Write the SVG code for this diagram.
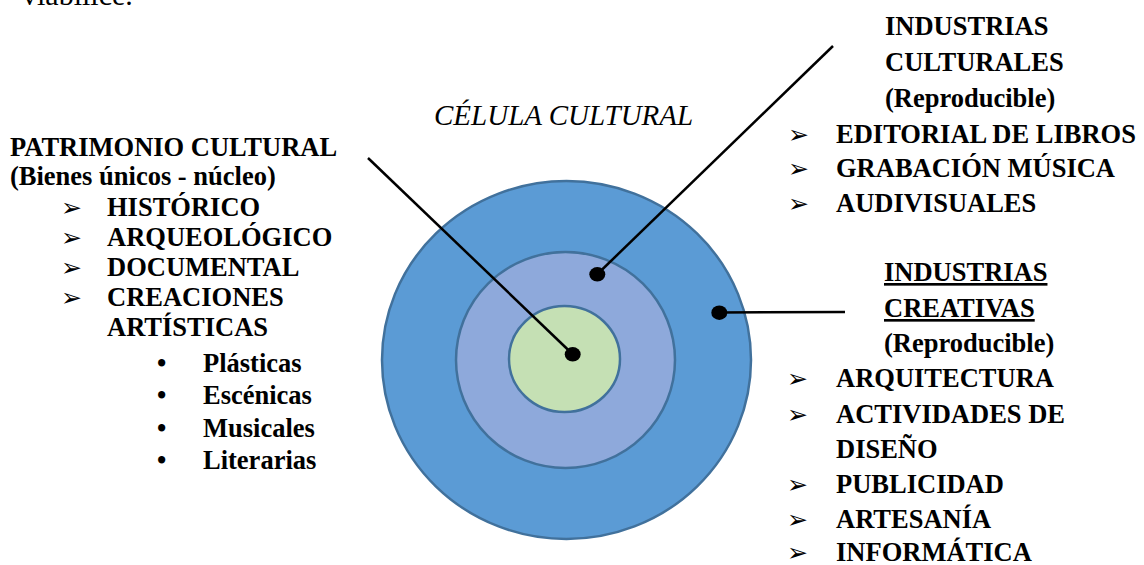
<svg xmlns="http://www.w3.org/2000/svg" width="1144" height="565" viewBox="0 0 1144 565">
<style>
.t{font-family:"Liberation Serif","Times New Roman",serif;font-size:26.5px;font-weight:bold;fill:#000}
.ar{font-family:"DejaVu Sans",sans-serif;font-size:25px;fill:#000}
.bu{font-family:"Liberation Serif",serif;font-size:26.5px;font-weight:bold;fill:#000}
.ring{stroke:#41719C;stroke-width:2.5}
.ln{stroke:#000;stroke-width:2.5;fill:none}
</style>
<rect width="1144" height="565" fill="#fff"/>
<text x="22" y="5" style="font-family:'Liberation Serif',serif;font-size:30px;fill:#000">viabilice.</text>

<g id="cell">
<ellipse class="ring" cx="566.5" cy="360" rx="184.5" ry="179" fill="#5B9BD5"/>
<ellipse class="ring" cx="565.5" cy="360" rx="109.5" ry="108" fill="#8EA9DB"/>
<ellipse class="ring" cx="564.5" cy="359" rx="55.5" ry="53" fill="#C5E0B4"/>
</g>

<g id="title">
<text x="434" y="125" style="font-family:'Liberation Serif',serif;font-size:29px;font-style:italic;fill:#000">CÉLULA CULTURAL</text>
</g>

<g id="connectors">
<line class="ln" x1="368" y1="158" x2="572.5" y2="354"/>
<line class="ln" x1="833" y1="46" x2="597" y2="274.5"/>
<line class="ln" x1="719" y1="312.5" x2="845" y2="312"/>
<ellipse cx="572.7" cy="354.3" rx="8" ry="7.3" fill="#000"/>
<ellipse cx="597.3" cy="274.3" rx="8" ry="7.3" fill="#000"/>
<ellipse cx="719.3" cy="312.7" rx="8" ry="7.3" fill="#000"/>
</g>

<g id="patrimonio">
<text class="t" x="10" y="156">PATRIMONIO CULTURAL</text>
<text class="t" x="10" y="185">(Bienes únicos - núcleo)</text>
<text class="ar" x="61" y="216">➢</text><text class="t" x="107" y="216">HISTÓRICO</text>
<text class="ar" x="61" y="246">➢</text><text class="t" x="107" y="246">ARQUEOLÓGICO</text>
<text class="ar" x="61" y="276">➢</text><text class="t" x="107" y="276">DOCUMENTAL</text>
<text class="ar" x="61" y="306">➢</text><text class="t" x="107" y="306">CREACIONES</text>
<text class="t" x="107" y="336">ARTÍSTICAS</text>
<text class="bu" x="157" y="372">•</text><text class="t" x="203" y="372">Plásticas</text>
<text class="bu" x="157" y="404">•</text><text class="t" x="203" y="404">Escénicas</text>
<text class="bu" x="157" y="437">•</text><text class="t" x="203" y="437">Musicales</text>
<text class="bu" x="157" y="469">•</text><text class="t" x="203" y="469">Literarias</text>
</g>

<g id="industrias-culturales">
<text class="t" x="885" y="35">INDUSTRIAS</text>
<text class="t" x="885" y="71">CULTURALES</text>
<text class="t" x="885" y="107">(Reproducible)</text>
<text class="ar" x="788" y="143">➢</text><text class="t" x="836" y="143">EDITORIAL DE LIBROS</text>
<text class="ar" x="788" y="177">➢</text><text class="t" x="836" y="177">GRABACIÓN MÚSICA</text>
<text class="ar" x="788" y="212">➢</text><text class="t" x="836" y="212">AUDIVISUALES</text>
</g>

<g id="industrias-creativas">
<text class="t" x="884" y="281" text-decoration="underline">INDUSTRIAS</text>
<text class="t" x="884" y="317" text-decoration="underline">CREATIVAS</text>
<text class="t" x="884" y="352">(Reproducible)</text>
<text class="ar" x="787" y="387">➢</text><text class="t" x="836" y="387">ARQUITECTURA</text>
<text class="ar" x="787" y="423">➢</text><text class="t" x="836" y="423">ACTIVIDADES DE</text>
<text class="t" x="836" y="458">DISEÑO</text>
<text class="ar" x="787" y="493">➢</text><text class="t" x="836" y="493">PUBLICIDAD</text>
<text class="ar" x="787" y="528">➢</text><text class="t" x="836" y="528">ARTESANÍA</text>
<text class="ar" x="787" y="561">➢</text><text class="t" x="836" y="561">INFORMÁTICA</text>
</g>
</svg>
